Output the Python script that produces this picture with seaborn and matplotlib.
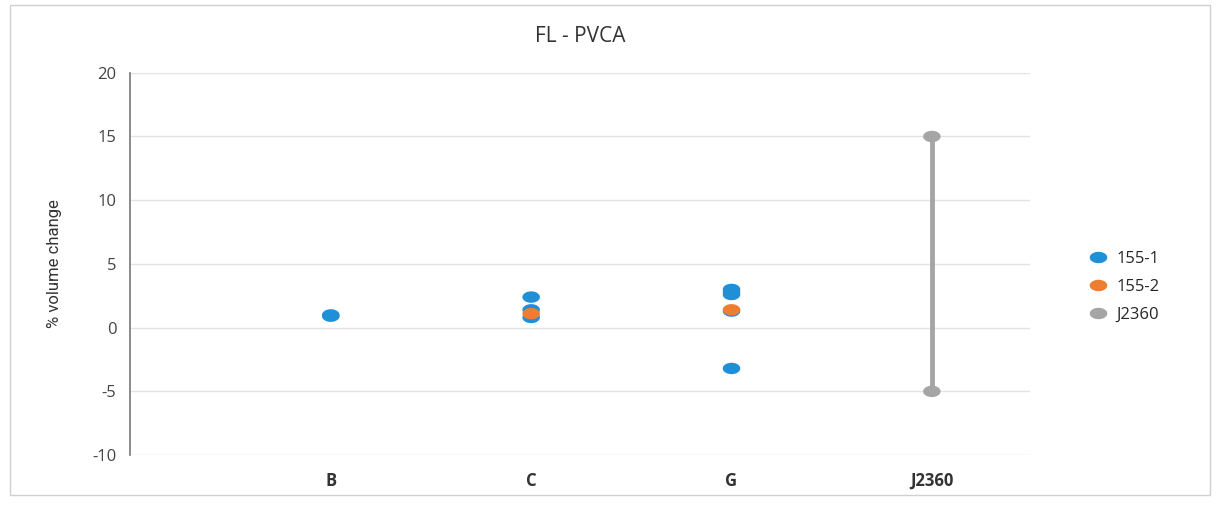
import numpy as np
import pandas as pd
import seaborn as sns
import matplotlib.pyplot as plt
from matplotlib.patches import Rectangle

categories = ["B", "C", "G", "J2360"]

# 155-1 points (blue)
s1_cat = ["B", "B", "C", "C", "C", "G", "G", "G", "G", "G"]
s1_val = [1.0, 0.9, 2.4, 1.4, 0.8, 3.0, 2.6, 1.3, -3.2, 2.8]

# 155-2 points (orange)
s2_cat = ["C", "G"]
s2_val = [1.1, 1.4]

# J2360 range (grey)
j_cat = ["J2360", "J2360"]
j_val = [15, -5]

series_names = ["155-1", "155-2", "J2360"]
colors = ["#1f8fd8", "#ed7d31", "#a5a5a5"]

pos = {c: i for i, c in enumerate(categories)}
df = pd.DataFrame({
    "cat": s1_cat + s2_cat + j_cat,
    "value": s1_val + s2_val + j_val,
    "series": ["155-1"] * len(s1_val) + ["155-2"] * len(s2_val) + ["J2360"] * len(j_val),
})
df["x"] = df["cat"].map(pos)

sns.set_style("white")
plt.rcParams["font.family"] = ["Open Sans", "DejaVu Sans"]
plt.rcParams["axes.unicode_minus"] = False

fig = plt.figure(figsize=(12.19, 5.16), dpi=100)
ax = fig.add_axes([0.107, 0.118, 0.738, 0.741])

# flattened ellipse marker like the original
t = np.linspace(0, 2 * np.pi, 40)
ell = np.column_stack([np.cos(t), 0.65 * np.sin(t)])

palette = dict(zip(series_names, colors))
sns.lineplot(data=df[df["series"] == "J2360"], x="x", y="value", color=palette["J2360"],
             estimator=None, sort=False, linewidth=3.5, ax=ax, legend=False, zorder=2)
sns.scatterplot(data=df, x="x", y="value", hue="series", hue_order=series_names,
                palette=palette, marker=ell, s=160, linewidth=0, ax=ax, zorder=3)

ax.set_xlim(-1, 3.49)
ax.set_ylim(-10, 20)
ax.set_yticks(range(-10, 21, 5))
ax.set_xticks(range(len(categories)))
ax.set_xticklabels(categories, fontsize=12, fontweight="bold", color="#333333")
ax.tick_params(axis="x", length=0, pad=12)
ax.tick_params(axis="y", length=0, pad=10, labelsize=12, labelcolor="#444444")
ax.yaxis.grid(True, color="#e3e3e3", lw=1)
ax.set_axisbelow(True)
for s in ["top", "right", "bottom"]:
    ax.spines[s].set_visible(False)
ax.spines["left"].set_color("#777777")
ax.spines["left"].set_linewidth(1.2)
ax.set_xlabel("")
ax.set_ylabel("% volume change", fontsize=12, family=["Liberation Sans Narrow", "Roboto", "DejaVu Sans"],
              color="#333333", labelpad=22)
ax.set_title("FL - PVCA", fontsize=15, color="#333333", pad=22)

handles, labels = ax.get_legend_handles_labels()
leg = ax.legend(handles, labels, loc="center left", bbox_to_anchor=(1.04, 0.44),
                frameon=False, fontsize=12, handletextpad=0.1, labelspacing=0.7,
                markerscale=1.0)

fig.patches.append(Rectangle((0.008, 0.04), 0.985, 0.95, transform=fig.transFigure,
                             fill=False, edgecolor="#d0d0d0", lw=1))

fig.savefig("out.png", dpi=100)
